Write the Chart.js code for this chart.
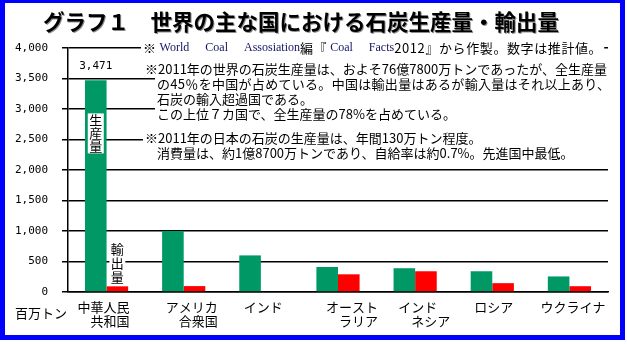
<!DOCTYPE html>
<html lang="ja">
<head>
<meta charset="utf-8">
<script src="https://cdn.jsdelivr.net/npm/chart.js@4.4.0/dist/chart.umd.min.js"></script>
<style>
    body { margin: 0; background: #fff; }
    #frame { position: absolute; left: 0; top: 0; width: 615px; height: 332px; border: 5px solid #0000ff; border-top-width: 3px; }
    #chart { position: absolute; left: 0; top: 0; }
</style>
</head>
<body>
<div id="frame"></div>
<canvas id="chart" width="627" height="344"></canvas>
<script>
// Datos (百万トン, 2011年の推計値)
const countries = [['中華人民', '共和国'], ['アメリカ', '合衆国'], ['インド'], ['オースト', 'ラリア'], ['インド　', 'ネシア'], ['ロシア'], ['ウクライナ']];
const production = [3471, 1000, 600, 410, 390, 340, 255];
const exportsMt = [93, 97, 0, 290, 340, 145, 95];
const yTicks = [0, 500, 1000, 1500, 2000, 2500, 3000, 3500, 4000];

const titleText = 'グラフ１　世界の主な国における石炭生産量・輸出量';
const unitText = '百万トン';
const sourceNote = [
    ['※', 'jp'], ['World', 'en'], ['Coal', 'en'], ['Assosiation', 'en'], ['編『', 'jp'],
    ['Coal', 'en'], ['Facts', 'en'], ['2012』から作製。数字は推計値。', 'jp']
];
const worldNote = [
    '※2011年の世界の石炭生産量は、およそ76億7800万トンであったが、全生産量',
    'の45％を中国が占めている。中国は輸出量はあるが輸入量はそれ以上あり、',
    '石炭の輸入超過国である。',
    'この上位７カ国で、全生産量の78%を占めている。'
];
const japanNote = [
    '※2011年の日本の石炭の生産量は、年間130万トン程度。',
    '消費量は、約1億8700万トンであり、自給率は約0.7%。先進国中最低。'
];

const JP = '"Noto Sans CJK JP", sans-serif';
const SERIF = '12px "Liberation Serif", serif';
// desplazamiento del borde derecho de cada etiqueta respecto al centro de la categoría
const labelNudge = [23, 34, 22, 40, 35, 21, 36];

function textBox(ctx, text, x, y, right, spacing) {
    ctx.letterSpacing = (spacing || 0) + 'px';
    ctx.fillStyle = '#fff';
    ctx.fillRect(x - 2, y - 8, right - x + 4, 16);
    ctx.fillStyle = '#000';
    ctx.fillText(text, x, y);
    ctx.letterSpacing = '0px';
}

const decorPlugin = {
    id: 'decor',
    afterDraw(chart) {
        const ctx = chart.ctx;
        const area = chart.chartArea;
        const xs = chart.scales.x;
        const ys = chart.scales.y;
        ctx.save();
        ctx.textBaseline = 'middle';

        // Título con sombra
        ctx.font = 'bold 21.5px ' + JP;
        ctx.textAlign = 'center';
        ctx.shadowColor = 'rgba(0,0,0,0.45)';
        ctx.shadowOffsetX = 1;
        ctx.shadowOffsetY = 1;
        ctx.fillStyle = '#000';
        ctx.fillText(titleText, 301, 22);
        ctx.shadowColor = 'transparent';

        // Nota de la fuente (línea de 4,000)
        ctx.textAlign = 'left';
        const setFont = k => {
            ctx.font = k === 'en' ? SERIF : '13px ' + JP;
            ctx.letterSpacing = k === 'en' ? '0px' : '0.6px';
        };
        let x = 143;
        const pos = sourceNote.map(([t, k], i) => {
            setFont(k);
            if (i > 0 && k === 'en') x += sourceNote[i - 1][1] === 'en' ? 16 : 3;
            const p = x;
            x += ctx.measureText(t).width;
            return p;
        });
        ctx.fillStyle = '#fff';
        ctx.fillRect(141, area.top - 8, x - 141 + 2, 16);
        sourceNote.forEach(([t, k], i) => {
            setFont(k);
            ctx.fillStyle = k === 'en' ? '#141464' : '#000';
            ctx.fillText(t, pos[i], area.top);
        });
        ctx.letterSpacing = '0px';

        // Notas explicativas
        ctx.font = '13px ' + JP;
        worldNote.forEach((t, i) => textBox(ctx, t, i === 0 ? 145 : 157, 69 + i * 15, area.right + 2, i === 1 ? 0.3 : 0));
        japanNote.forEach((t, i) => textBox(ctx, t, i === 0 ? 145 : 157, 138 + i * 15, area.right + 2));

        // Etiquetas sobre las barras de China
        const prodBar = chart.getDatasetMeta(0).data[0];
        const expBar = chart.getDatasetMeta(1).data[0];
        ctx.font = '11px "DejaVu Sans Mono", monospace';
        ctx.textAlign = 'center';
        ctx.fillStyle = '#000';
        ctx.fillText(production[0].toLocaleString('en-US'), prodBar.x, prodBar.y - 14);

        ctx.font = '13px ' + JP;
        const midY = ys.getPixelForValue(2600);
        ctx.fillStyle = '#fff';
        ctx.fillRect(prodBar.x - 8, midY - 20, 16, 40);
        ctx.fillStyle = '#000';
        ['生', '産', '量'].forEach((c, i) => ctx.fillText(c, prodBar.x, midY + (i - 1) * 13));

        const baseY = expBar.y - 9;
        ctx.fillStyle = '#fff';
        ctx.fillRect(expBar.x - 8, baseY - 35, 16, 42);
        ctx.fillStyle = '#000';
        ['量', '出', '輸'].forEach((c, i) => ctx.fillText(c, expBar.x, baseY - i * 14));

        // Etiquetas de categorías
        ctx.textAlign = 'right';
        countries.forEach((lines, i) => {
            const right = xs.getPixelForValue(i) + labelNudge[i];
            lines.forEach((t, j) => ctx.fillText(t, right, 307 + j * 14));
        });

        // Unidad
        ctx.textAlign = 'left';
        ctx.fillText(unitText, 15, 313);
        ctx.restore();
    }
};

new Chart(document.getElementById('chart'), {
    type: 'bar',
    data: {
        labels: countries.map(l => l.join('')),
        datasets: [{
            label: '生産量',
            data: production,
            backgroundColor: '#009966',
            borderWidth: 0,
            categoryPercentage: 0.56,
            barPercentage: 1.0
        }, {
            label: '輸出量',
            data: exportsMt,
            backgroundColor: '#ff0000',
            borderWidth: 0,
            categoryPercentage: 0.56,
            barPercentage: 1.0
        }]
    },
    options: {
        responsive: false,
        animation: false,
        layout: { padding: { top: 48, right: 19, left: 0, bottom: 0 } },
        plugins: {
            legend: { display: false },
            tooltip: { enabled: false }
        },
        scales: {
            x: {
                grid: { display: false },
                border: { display: true, color: '#000', width: 1.5 },
                ticks: { display: false },
                afterFit: s => { s.height = 52; }
            },
            y: {
                min: 0,
                max: 4000,
                afterBuildTicks: s => { s.ticks = yTicks.map(v => ({ value: v })); },
                grid: { color: '#000', lineWidth: 1.5, tickLength: 6 },
                border: { color: '#000', width: 1.5 },
                ticks: {
                    color: '#000',
                    padding: 14,
                    font: { family: 'DejaVu Sans Mono', size: 11 },
                    callback: v => v.toLocaleString('en-US')
                },
                afterFit: s => { s.width = 68; }
            }
        }
    },
    plugins: [decorPlugin]
});
</script>
</body>
</html>
